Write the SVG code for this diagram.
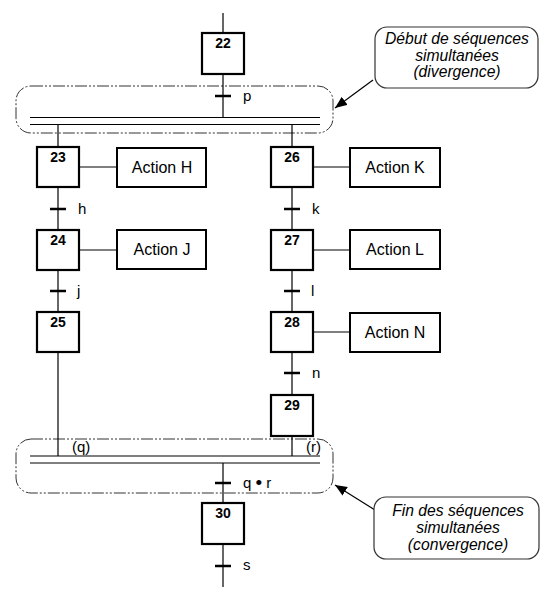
<svg xmlns="http://www.w3.org/2000/svg" width="560" height="600" viewBox="0 0 560 600">
<defs>
<style>
.step{fill:#fff;stroke:#000;stroke-width:2.2}
.act{fill:#fff;stroke:#000;stroke-width:2}
.ln{stroke:#000;stroke-width:1.2;fill:none}
.tick{stroke:#000;stroke-width:2.5}
.num{font-family:"Liberation Sans",Arial,sans-serif;font-weight:bold;font-size:14px;text-anchor:middle;fill:#000}
.atx{font-family:"Liberation Sans",Arial,sans-serif;font-size:16px;text-anchor:middle;fill:#000}
.lbl{font-family:"Liberation Sans",Arial,sans-serif;font-size:15px;fill:#000}
.dash{fill:none;stroke:#333;stroke-width:1;stroke-dasharray:12 2 2 2 2 2}
.call{fill:#fff;stroke:#333;stroke-width:1.2}
.ctx{font-family:"Liberation Sans",Arial,sans-serif;font-style:italic;font-size:15.7px;text-anchor:middle;fill:#000}
</style>
<marker id="ah" viewBox="0 0 12 10" refX="12" refY="5" markerWidth="12" markerHeight="10" markerUnits="userSpaceOnUse" orient="auto">
<path d="M0,0 L12,5 L0,10 Z" fill="#000"/>
</marker>
</defs>

<g id="divergence-frame">
<rect class="dash" x="16" y="86" width="317" height="47" rx="15" ry="15"/>
</g>
<g id="convergence-frame">
<rect class="dash" x="16" y="439" width="317" height="54" rx="15" ry="15"/>
</g>

<g id="connectors">
<line class="ln" x1="223" y1="13" x2="223" y2="33"/>
<line class="ln" x1="223" y1="74" x2="223" y2="117.5"/>
<line class="ln" x1="30" y1="117.5" x2="320" y2="117.5"/>
<line class="ln" x1="30" y1="124.5" x2="320" y2="124.5"/>
<line class="ln" x1="58" y1="124.5" x2="58" y2="147"/>
<line class="ln" x1="292" y1="124.5" x2="292" y2="147"/>
<line class="ln" x1="58" y1="187" x2="58" y2="230"/>
<line class="ln" x1="58" y1="270" x2="58" y2="312"/>
<line class="ln" x1="58" y1="352" x2="58" y2="456"/>
<line class="ln" x1="292" y1="187" x2="292" y2="230"/>
<line class="ln" x1="292" y1="270" x2="292" y2="312"/>
<line class="ln" x1="292" y1="352" x2="292" y2="395"/>
<line class="ln" x1="292" y1="436" x2="292" y2="456"/>
<line class="ln" x1="30" y1="456" x2="320" y2="456"/>
<line class="ln" x1="30" y1="463" x2="320" y2="463"/>
<line class="ln" x1="223" y1="463" x2="223" y2="503"/>
<line class="ln" x1="223" y1="544" x2="223" y2="587"/>
<line class="ln" x1="79" y1="167" x2="117" y2="167"/>
<line class="ln" x1="79" y1="250" x2="117" y2="250"/>
<line class="ln" x1="313" y1="167" x2="350" y2="167"/>
<line class="ln" x1="313" y1="250" x2="350" y2="250"/>
<line class="ln" x1="313" y1="332" x2="350" y2="332"/>
<line class="tick" x1="215" y1="96" x2="231" y2="96"/>
<line class="tick" x1="50" y1="209" x2="66" y2="209"/>
<line class="tick" x1="50" y1="291" x2="66" y2="291"/>
<line class="tick" x1="284" y1="209" x2="300" y2="209"/>
<line class="tick" x1="284" y1="291" x2="300" y2="291"/>
<line class="tick" x1="284" y1="373" x2="300" y2="373"/>
<line class="tick" x1="215" y1="483" x2="231" y2="483"/>
<line class="tick" x1="215" y1="566" x2="231" y2="566"/>
<line class="ln" x1="373" y1="80" x2="335" y2="108" marker-end="url(#ah)"/>
<line class="ln" x1="375" y1="510" x2="335" y2="485" marker-end="url(#ah)"/>
</g>

<g id="transition-labels">
<text class="lbl" x="243" y="101">p</text>
<text class="lbl" x="78" y="214">h</text>
<text class="lbl" x="77" y="296">j</text>
<text class="lbl" x="312" y="214">k</text>
<text class="lbl" x="311" y="296">l</text>
<text class="lbl" x="312" y="378">n</text>
<text class="lbl" x="72" y="452">(q)</text>
<text class="lbl" x="321" y="452" text-anchor="end">(r)</text>
<text class="lbl" x="243" y="488">q <tspan font-size="19px" dy="1">•</tspan><tspan dy="-1"> r</tspan></text>
<text class="lbl" x="243" y="570">s</text>
</g>

<g id="step22"><rect class="step" x="202" y="33" width="42" height="41"/><text class="num" x="223" y="48">22</text></g>
<g id="step23"><rect class="step" x="37" y="147" width="42" height="40"/><text class="num" x="58" y="162">23</text></g>
<g id="step24"><rect class="step" x="37" y="230" width="42" height="40"/><text class="num" x="58" y="245">24</text></g>
<g id="step25"><rect class="step" x="37" y="312" width="42" height="40"/><text class="num" x="58" y="327">25</text></g>
<g id="step26"><rect class="step" x="271" y="147" width="42" height="40"/><text class="num" x="292" y="162">26</text></g>
<g id="step27"><rect class="step" x="271" y="230" width="42" height="40"/><text class="num" x="292" y="245">27</text></g>
<g id="step28"><rect class="step" x="271" y="312" width="42" height="40"/><text class="num" x="292" y="327">28</text></g>
<g id="step29"><rect class="step" x="271" y="395" width="42" height="41"/><text class="num" x="292" y="410">29</text></g>
<g id="step30"><rect class="step" x="202" y="503" width="42" height="41"/><text class="num" x="223" y="518">30</text></g>

<g id="actionH"><rect class="act" x="117" y="148" width="89" height="39"/><text class="atx" x="162" y="172.5">Action H</text></g>
<g id="actionJ"><rect class="act" x="117" y="230" width="89" height="39"/><text class="atx" x="162" y="255">Action J</text></g>
<g id="actionK"><rect class="act" x="350" y="148" width="90" height="39"/><text class="atx" x="395" y="172.5">Action K</text></g>
<g id="actionL"><rect class="act" x="350" y="230" width="90" height="39"/><text class="atx" x="395" y="255">Action L</text></g>
<g id="actionN"><rect class="act" x="350" y="313" width="90" height="39"/><text class="atx" x="395" y="337.5">Action N</text></g>

<g id="callout-divergence">
<rect class="call" x="375" y="27" width="163" height="61" rx="12" ry="12"/>
<text class="ctx" x="457" y="44">Début de séquences</text>
<text class="ctx" x="457" y="61">simultanées</text>
<text class="ctx" x="457" y="77">(divergence)</text>
</g>
<g id="callout-convergence">
<rect class="call" x="374" y="497" width="165" height="62" rx="12" ry="12"/>
<text class="ctx" x="458" y="516">Fin des séquences</text>
<text class="ctx" x="458" y="533">simultanées</text>
<text class="ctx" x="458" y="550">(convergence)</text>
</g>
</svg>
